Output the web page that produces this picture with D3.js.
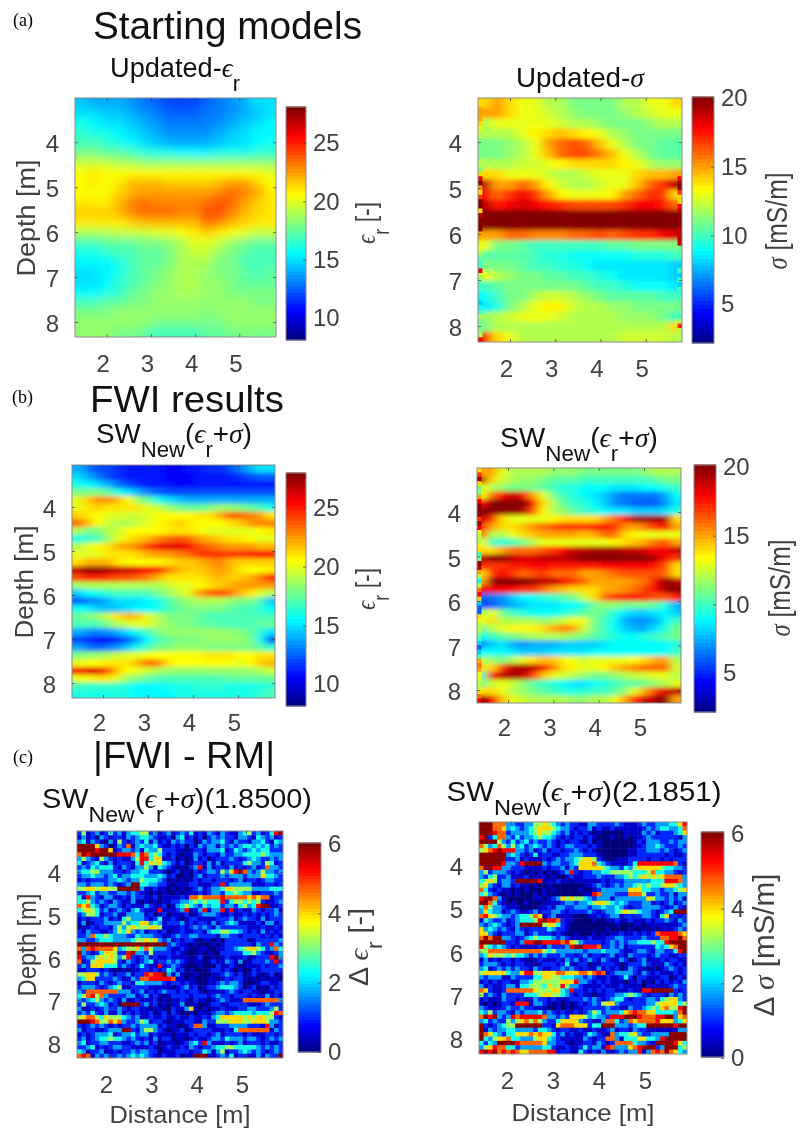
<!DOCTYPE html>
<html>
<head>
<meta charset="utf-8">
<script src="https://cdn.jsdelivr.net/npm/d3@7/dist/d3.min.js"></script>
<style>
html, body { margin: 0; padding: 0; background: #fff; }
svg { display: block; filter: blur(0.4px); }
text { font-family: "Liberation Sans", Arial, sans-serif; }
</style>
</head>
<body>
<svg id="chart" width="807" height="1128"></svg>
<script>
var xTicks = [2, 3, 4, 5]
var yTicks = [4, 5, 6, 7, 8]
var epsTicks = [10, 15, 20, 25]
var sigTicks = [5, 10, 15, 20]
var deltaTicks = [0, 2, 4, 6]

// (a) starting model, permittivity
var startEps = [
	[14.5,14,14,14,13.5,13,12.5,12,12,12,12.5,13,13.5,14,15,15],
	[15,15,14.5,14.5,14,13.5,13,12.5,12.5,12.5,13,13,13.5,14,14.5,15],
	[16,15.5,15,15,14.5,14,13.5,13,13,13,13,13.5,14,14.5,15,15.5],
	[16.5,16,16,15.5,15,14.5,14,13.5,13.5,13.5,13.5,14,14.5,15,15.5,15.5],
	[17,17,16.5,16,15.5,15,14.5,14,14,14,14,14.5,15,15,15.5,16],
	[18,18,17.5,17.5,17,16.5,16,16,15.5,15.5,15.5,16,16,16,16.5,16.5],
	[19.5,19.5,19.5,19,19,18.5,18.5,18.5,18.5,18.5,18.5,18.5,18.5,18.5,18.5,18.5],
	[20.5,21,20.5,20.5,20.5,20.5,20.5,20.5,20.5,20.5,20.5,20.5,20.5,20.5,20.5,20],
	[20.5,21,20.5,21,22,22,22,21.5,21.5,21.5,21.5,22,22.5,22.5,21.5,20.5],
	[20.5,20.5,20.5,21.5,22,22.5,22.5,22.5,22.5,22.5,22.5,23,23.5,23,22.5,21],
	[21,21,21,22,23,23.5,23,23,23,23,23.5,24,23.5,22.5,21.5,21],
	[21.5,21.5,21.5,22,23,23.5,23.5,23.5,23,23,24,24,23,22,21.5,21],
	[21,21,21,21,21.5,22,22,22,22,22,23.5,23,22,21.5,21,21],
	[19,19,19,19.5,19.5,19.5,20,20,20.5,21,21.5,21,20.5,20,19.5,19.5],
	[17,17,17.5,17.5,17.5,18,18,18.5,19,20,20,19.5,18.5,18,17.5,17.5],
	[16,16,16.5,17,17,17.5,17.5,18,19,19.5,19.5,18.5,18,17.5,17,17],
	[15.5,15.5,15.5,16,17,17.5,17.5,18,19,19,19,18,18,17,17,17],
	[15,15,15.5,16,17,17.5,18,18.5,19,19,18.5,18,18,17.5,17,17.5],
	[15,15,15.5,16.5,17,17.5,18,18.5,19,19,18.5,18.5,18,17.5,17.5,17.5],
	[15.5,15.5,16,16.5,17.5,18,18.5,18.5,19,19,18.5,18.5,18,18,18,18],
	[17,17,17.5,17.5,18,18,18.5,18.5,18.5,18.5,18.5,18.5,18.5,18.5,18,18],
	[18,18,18,18.5,18.5,18.5,18.5,18.5,18.5,18.5,18,18.5,18.5,18.5,18.5,18.5],
	[18.5,18.5,18.5,18.5,18.5,18.5,18,18,18,18,18,18,18.5,18.5,18.5,18.5],
	[18.5,18.5,18.5,18,18,17.5,17,17,17,17,17.5,17.5,18,18,18,18]
]

// (a) starting model, conductivity
var startSig = [
	[14,15,14,13,13,12,12,11,11,11,11,12,12,13,13,14],
	[15,15,14,13,13,12.5,12,11.5,11,11,11,11.5,12,12.5,13,13],
	[12,13,13,13,13,13,12.5,12,12,11.5,11,11,11,11.5,12,12],
	[12,12,12,13,13.5,14,14.5,14,13.5,13,12,11.5,11,11,11,11],
	[11,11,11.5,12,13,15,16,16.5,16,14.5,13,12,11,11,10.5,10.5],
	[11,11,11.5,12,13,14.5,16,16.5,16.5,15.5,14.5,13,12,11,10.5,10.5],
	[12,12,12,12.5,12.5,13,13.5,14,14,14,14,13.5,13,12,11.5,11.5],
	[14,14,13,13,13,12.5,12,12,12.5,13,13,13,14,14.5,14.5,15],
	[19,15,15,16,15,13.5,12.5,12,12,12.5,13,13,14.5,16,17,19],
	[18,16,17,18,17,15,13.5,13,13,13,13.5,15,16,17,17,14],
	[19,17.5,18,18.5,18,17.5,17,16.5,16.5,16.5,16.5,17,18,18,17.5,16],
	[20,20,20,20,20,20,20,20,20,20,20,20,20,20,20,20],
	[20,20,20,20,20,20,20,20,20,20,20,20,20,20,20,20],
	[15,15,16,16,15.5,15.5,15.5,16,16,16.5,16,16.5,17,17,18,18.5],
	[13,11,11,10.5,10,10,10,10,10,10,10.5,10.5,11,11,11,11],
	[10.5,10.5,10.5,10.5,10,9.5,9.5,9,9,9,9,9,9.5,9.5,9.5,10],
	[11,11,11,10.5,10,10,9.5,9.5,9,8.5,8.5,8.5,8.5,8.5,8.5,8],
	[13,12,11.5,11,11,10.5,10.5,10,10,9.5,9,8.5,8.5,8.5,8.5,8],
	[10,10.5,11,11,11,11,11,11,10.5,10,10,9.5,9,9,9,8.5],
	[9,10,11,11,12,12.5,12.5,12,11.5,11,10.5,10.5,10.5,10.5,10,10],
	[8.5,9.5,11,12,13,13.5,13.5,12.5,12,12,11.5,11.5,11,11,11,11],
	[11.5,12,12.5,13,13,13,12.5,12,12,12,12,11.5,11.5,11.5,11,10],
	[11,12,12,12,12,12,12,12,12,12,12,12,12,12,12,14],
	[17,14,13,12,12,12,12,12,12,12,12,12.5,12.5,12.5,12.5,12]
]

// fine cells along the frame where the model has speckle, top to bottom, null where nothing stands out
var startSigLeft = [14,14,15,15,15,14,13,12,12,11,11,11,11,12,12,11,14,18,20,15,14,17,20,20,14,19,20,20,20,15,null,null,13,12,11,10,10,18,12,11,10,10,9,9,8,9,10,12,11,11,11,12,18]
var startSigRight = [null,null,null,null,null,null,null,null,null,null,null,null,null,null,null,null,15,18,20,20,17,14,14,18,19,20,20,20,19,19,19,19,null,null,null,null,8,10,8,10,8,10,null,null,null,null,null,null,12,17,12,null,null]
var fwiSigLeft = [14,17,20,14,11,11,15,18,20,20,20,17,20,18,13,12,12,null,14,10,11,20,19,15,12,9,12,16,18,14,8,6,6,14,13,12,12,11,10,8,6,8,10,15,16,15,13,13,12,12,14,16,18]

// (b) FWI result, permittivity
var fwiEps = [
	[14,13,12,12,11.5,11,11,11,11,10.5,10.5,11,11,11.5,11.5,12,13,14,15,15],
	[15,14,13,12,11.5,11,11,11,11,10.5,10.5,10.5,11,11,11,11,11.5,12,12.5,12.5],
	[16,15.5,15,14,13,12,11.5,11,11,11,10.5,10.5,11,11,11,11,11,11,11,11],
	[18,18,18,17.5,16,15,14,13,12.5,12,12,12,12,12,12,12,12,12,12,12],
	[20,21.5,22.5,22.5,22,20.5,18.5,17.5,16,15,14.5,14,14,14,14,14,14,14,14,14],
	[20,21,21.5,21,21,21,21,20,19.5,18.5,18,17.5,17.5,18,18.5,18.5,18,17.5,17,16],
	[21.5,21,20.5,20,20,19.5,19.5,20,20.5,20.5,20.5,20.5,21,21,22,23.5,23.5,23,22.5,21],
	[23.5,22,20.5,19.5,19,19,19.5,20,20.5,21,21.5,21,20.5,20.5,20.5,21,21.5,22.5,23,23],
	[19,18,18,19,19.5,20.5,20.5,20.5,20.5,21,21,21,20.5,20,20,20,20,20,20.5,21],
	[16,16.5,17,18.5,20,21,21.5,22,23,23.5,24,23.5,22.5,22,21.5,21,21,20.5,20,20],
	[19,20,20.5,21,22,22.5,23,24.5,25.5,26,26,25.5,24,23.5,23,22.5,22.5,22.5,22,22],
	[20,20,20,21,21,21,21.5,22,22.5,22.5,23,23.5,24.5,24.5,24.5,24.5,24.5,25,25.5,25.5],
	[21,22,22,22,21,20.5,20.5,20.5,20.5,21,21.5,21.5,22,22.5,23,22,21.5,21.5,21.5,21.5],
	[26.5,27.5,27.5,27,26.5,26.5,26,25.5,25,23,22,21.5,21.5,22,22.5,22,21,20.5,20.5,21],
	[24,25,25,24.5,24,24,23.5,23,22,21,21,21,21,21.5,22,21.5,21.5,22,23,25],
	[18.5,19,19,19,19,19,19,19,19,19.5,20,20,20.5,21,21.5,22,22.5,22.5,22.5,22.5],
	[14.5,15.5,16,16.5,17,17,17,17,18,18.5,19.5,20,22.5,23.5,24,23.5,22,21,20,19],
	[12.5,13,13.5,14,15,15,15,15.5,16,17,18,18.5,19,19,19,18.5,18,18,17,14.5],
	[16,15.5,14.5,14.5,14.5,15,15.5,15.5,16,17,17.5,18,18,18,18,17.5,17,17,16.5,15.5],
	[17.5,18,18.5,19.5,21,22,21.5,20,19,18,18,18,17.5,17,17,17,17,17,17,17],
	[17,17,17,18,19,19.5,20,20,19,18.5,18,18,17.5,17.5,17,17,17,17,17.5,17.5],
	[14,13.5,13,13.5,14,15,16,17,18,18.5,18.5,18.5,18.5,18.5,18.5,18.5,18,17.5,16.5,15],
	[12,11.5,11,11,11.5,12.5,14,15.5,17,17.5,18,18,18,18.5,18.5,18.5,18.5,18,16,12.5],
	[14,13,12.5,13,13.5,14.5,16,17,18,18,18.5,18.5,18.5,18,18,18,18,18,17.5,16.5],
	[18,18.5,18.5,19,19.5,20,20,20.5,20.5,20.5,20.5,20.5,20.5,21,21,21,20.5,20.5,21,21],
	[20,20.5,20.5,21,21,21,22,23.5,23,21,20.5,20.5,20.5,20.5,20.5,20.5,20,20.5,21.5,22],
	[25,26,26,24,21.5,20.5,20,19.5,19,18.5,18.5,18.5,18.5,18.5,18.5,18.5,18.5,18.5,19,19.5],
	[20,20.5,21,21,20,18.5,18,17.5,17,17,17,17,17,17,17,17.5,17.5,17.5,17.5,17.5],
	[17,16.5,16.5,16.5,16.5,16,15.5,15.5,15.5,16,16,16,16.5,16.5,16.5,16,16,16,16,16.5],
	[16,16,16,16,16,16,15.5,15.5,15.5,15.5,16,16,16,16,16,16,16,16,16.5,17]
]

// (b) FWI result, conductivity
var fwiSig = [
	[15,15,13,12,12,12,12,11.5,11.5,11.5,11,11,11,11,11,11,11.5,12,12,12],
	[19,14,12.5,12,11.5,11.5,11,10.5,10.5,10.5,10,10,10,10,10,10,10,10.5,11,11],
	[13,12,11.5,11,11,11,10.5,10,9.5,9.5,9,9,9,8.5,8.5,8.5,9,9,9.5,10],
	[13,16,18,19,18,15,13,11,10,9.5,9,8.5,8,7,6.5,6.5,6.5,6.5,7.5,9],
	[18,20,20,20,20,18,14,12,10.5,10,9.5,9,8,7,6.5,6,6,6,7,8.5],
	[20,20,20,20,19.5,16.5,13.5,12,11.5,10.5,10,9.5,9,8.5,8.5,8,8,8,8.5,9.5],
	[19,17,14,13,13,13,13,13.5,14,14,14,14,15,16,18,19.5,19.5,19.5,19.5,14],
	[17,15,14,14,14.5,15.5,16,16.5,17,17,17,17.5,17.5,17,15.5,15,16,17,18,15],
	[16,12,12,13,14,14.5,15,15,15,15,14.5,15,16,16,14,13.5,13,13,13,13],
	[13,10,9.5,10,11,12,13,13,13,13,13,13,13,13.5,14,14.5,15,16,16.5,15],
	[14,14,15,16,16,16,16.5,17,18,19,19,19.5,19.5,19.5,19,19,18.5,18,18,19],
	[19,20,20,19,18.5,18.5,19,19,19,19.5,20,20,20,20,20,20,20,19,18,17],
	[17,17,17,17.5,17.5,18,18,17.5,17.5,17.5,17.5,17.5,18,18,18,18,18,17.5,16.5,14],
	[14,17,18,17,16,16.5,17,16,16,16,15,15,15.5,16,16.5,16.5,16.5,16.5,16,14],
	[15,20,20,20,20,19.5,19,19,18,17,16,15,15,15,15,15.5,16,18,20,19],
	[18,18,18,18,17,17,16,15,14.5,14,14,14,15,15,15.5,16,17,18,19.5,20],
	[6,6.5,7,8,9,9,9.5,10,10.5,11,12.5,14,16,17,17.5,17.5,17,16.5,16.5,17.5],
	[5.5,6,7,7.5,8,8.5,8.5,8.5,9,9,9.5,11,11.5,11.5,11,11,11,10.5,9.5,7.5],
	[12,13,11,10,9.5,9,9,9,9.5,10,10.5,11,10.5,9.5,8.5,8,8,8.5,9,8],
	[13,14,12,12,12,12,11.5,12,12.5,13.5,13,11,10,9,7.5,7,7,7.5,9,10],
	[11,12,13,13.5,13.5,13.5,14,15,15.5,15,12.5,11,10,9,8,7.5,7.5,8.5,9.5,11],
	[9,10,10.5,11,11.5,12,12,12,12,11.5,11,10.5,10,9.5,9,9,9.5,10,10.5,11],
	[7,8,8.5,7.5,7,7.5,7.5,7.5,8,8,8,8,8.5,9,9,9,9,9,9,9.5],
	[9,9,9,8.5,8,8,8,8.5,8.5,8.5,8.5,9,9,9,9,9,9,9,9,10],
	[12,11.5,11,12,13,14,14.5,14.5,13.5,13,12.5,13,13,13,13,13.5,14,15,15,12],
	[14,14,17,19,19.5,19,17.5,15.5,14,13.5,13,13,13.5,14.5,15,15.5,16,16,16,12.5],
	[10,18,19,19.5,19,17,14.5,13,12.5,12,11.5,11,11,11.5,12,12.5,12.5,13,13,12],
	[11,12.5,13,12.5,11.5,10.5,10,9.5,9,8.5,8.5,9,9.5,10,10.5,10.5,11,11.5,12,13],
	[14,14,13,12,11.5,11,10.5,10,9.5,9.5,9.5,10,10,10.5,11.5,13,15,17,18.5,19],
	[20,18,14.5,13,12.5,12,12,12,12,11.5,11.5,12,12,13,15,17,18.5,19.5,20,15]
]

// (c) misfit panels, one digit per cell, digitValue says what each digit stands for (spaces only help counting)
var digitValue = [0, 0.45, 1, 1.7, 2.4, 3.2, 4, 4.7, 5.3, 6]
var diffEpsRows = [
	"2512312423 1344552312 3123241213 2132113452 312489",
	"1312032122 1323443211 2034121202 3232213321 432312",
	"3413210315 2123241312 1323220132 3342132213 342143",
	"9999632013 2713433421 1212021323 3132323443 434232",
	"9999899612 3323143352 2211012213 3341243234 344222",
	"7989999998 8874874542 1210113212 2132233444 454333",
	"3532153212 1135884661 1201013120 1222321234 322323",
	"4123421312 2214846564 3212012213 1312222453 325412",
	"2324344421 3213353143 2101023813 1221312123 127332",
	"3445533322 1233442221 0120102123 3253689732 353323",
	"2334332342 3344433343 1200102312 2232333233 364432",
	"1212222334 3233544432 0101012122 1222123122 123322",
	"3323332321 2399443322 1011122111 2282333331 112212",
	"5566566559 9999311211 0101012312 3346655553 333444",
	"2234233223 3232110101 0010111212 3324454331 122232",
	"4183213311 2132211201 1112177677 7787777767 677122",
	"4453232132 1131010101 1223345454 4482455454 521123",
	"7674312332 1211132112 0134543243 4423324534 899112",
	"4565423123 2134211181 1123811381 3381812113 212231",
	"2355412231 1333312012 0111201233 3211211212 121232",
	"1212223121 4533321241 1210122111 1222312322 131222",
	"1301223333 5344663431 2223121221 3123431111 213312",
	"0112122135 3565556651 1112123232 1322222211 121121",
	"2132211235 4632312212 0112112213 4455443212 131212",
	"2237445433 3224333221 1232233222 2133221222 212121",
	"3322344433 3345565632 3121221011 0102222201 222223",
	"9999999999 9999999999 2321101000 1012222221 322832",
	"7378777763 4556475333 2112100110 0112234566 542374",
	"9321246652 2893325222 2121000101 0022222445 321123",
	"8233565653 5821231211 2111101200 1012111201 222893",
	"7125666652 1321234122 3232101101 2113213012 223282",
	"2326664442 3212421181 2321000100 0211210111 121223",
	"1122212100 1011221212 4312010001 2212101002 122222",
	"5566523212 2312287889 3131001000 1123212012 101201",
	"3466222232 1132778888 8711010001 1012122101 010110",
	"1222132123 2214433332 1221211001 1232332000 122112",
	"2333212345 1122221111 1012312012 2344432012 010212",
	"3277777773 3312312123 2212122101 1112321221 101122",
	"4578573222 2331231210 1222212221 2322122212 113121",
	"3234532321 3112111201 0112102110 1232111777 777773",
	"2522343120 9999231201 0113011001 2211222211 123222",
	"3112123223 2122110110 0211361010 1121112233 222352",
	"2324213113 1212112012 0210010111 2332344443 444587",
	"5677546555 4323112112 1121121121 3466666565 665521",
	"9998755767 3223541221 0111221132 2555666556 665332",
	"2123232121 2232333312 1100127731 1222333322 218312",
	"3122112333 9921355321 0112012222 1112147777 777132",
	"1212333412 3342331211 1011121221 2312222121 112212",
	"2312344544 3232121312 2011012112 3324333233 212323",
	"3412233222 1123231201 1101234283 1112123122 212112",
	"2234121233 2211112101 2112132122 3445544444 323232",
	"4312231121 2232332201 1122212243 1351223432 321232",
	"7871323223 2343432112 1120119991 1232412211 313229"
]

var diffSigRows = [
	"9997773322 3355654323 2211332222 3211123223 334468",
	"9997763432 3456665433 2122312112 1111112323 443347",
	"9998772333 3456554323 1212101000 0011113231 222346",
	"8924773242 3345443212 1221210001 0010112322 222213",
	"9999532423 4232232121 2210201000 0000121333 223233",
	"7534753534 2343232123 3222121000 0000112334 322232",
	"5678988833 2312312212 2321210000 0001122333 232123",
	"9999993432 1241221122 3332221000 0001122222 212112",
	"9999992231 2111212323 3456652100 1112222122 121222",
	"9999983328 9999323322 3466674321 1112488888 888721",
	"7998833222 1111212231 3266666543 3243566666 544332",
	"3523332121 0101010123 8212233445 5555444574 433212",
	"3245223111 2011101001 2112223222 3345456565 677773",
	"4565233299 9998111211 0111111212 2233333344 488873",
	"5632133121 1010010000 0001123212 3233454544 566543",
	"7421211010 1000101000 0010012333 3336664433 233456",
	"4532101010 0010100000 0001187333 2227775223 223133",
	"8997310000 0011012365 6554323331 3333333653 323231",
	"9974210100 1000111123 3233456654 3432223312 123123",
	"4753321110 0001121332 2333233433 4321223333 212321",
	"3643312321 1231223321 2222321233 4565543321 234999",
	"7865433234 4576123111 1000112123 3122223321 462212",
	"1432231234 4458988721 1000010011 2112111212 232132",
	"3234321239 9999566421 0000000000 1000110111 111123",
	"6343232132 1222243221 0000000010 0001001010 111232",
	"6632122233 1232221210 0100010101 1211212127 888876",
	"7979933212 3454443232 1111211122 3322223222 778897",
	"9999992213 8899888878 6532222123 2323344454 489999",
	"8543432121 1112132223 8998887223 2312222224 346799",
	"5577777777 7777545333 3332333433 3211233213 322489",
	"3465554544 3232322232 2123122123 1213222123 221122",
	"1312122121 1012111213 2312321321 1320123111 212211",
	"2333212122 1101222124 1122011222 1012223211 132121",
	"3412323232 2132112232 3212113121 2013211010 123212",
	"5666664336 8855666776 6677678712 3333213212 111212",
	"3233311322 2244665544 4332321121 1242022111 220121",
	"1212122113 3455555566 6833212121 1101120102 121213",
	"3121123314 4555465585 3321111211 1211110111 112322",
	"7621127777 7765556643 8221212122 1112118899 999212",
	"5232132222 4445665543 2121101122 3345432122 213232",
	"1211132212 1132212111 2223232123 4421222332 456632",
	"1010122188 8133210101 0121232566 3222222335 666645",
	"3211123223 2211100101 0112222232 2113223454 675589",
	"4352332132 3334232121 1212354233 3467877664 444379",
	"7989323878 8888733232 6665343328 8899987778 899367",
	"3423225356 7575322466 6632211377 4237677778 666346",
	"9212345599 9999221677 7666244999 3332344999 999899",
	"9132334433 3324432122 1121121123 1221322111 111133",
	"9764324466 6767664231 2112432117 3445632233 339999",
	"9435667443 3356643211 1113212277 3144466443 899999",
	"4243999987 7777633221 0112213212 7777433219 999864",
	"3568774423 3333442112 1124233187 3336789992 399945",
	"8989787876 6777788122 1142121311 2323381378 797643"
]

var diffEps = parseDigits(diffEpsRows)
var diffSig = parseDigits(diffSigRows)

function parseDigits(rows) {
	return rows.map(r => r.replace(/ /g, '').split('').map(d => digitValue[+d]))
}

// rich text pieces: n normal, e greek italic, s subscript
var eps = ['\u03f5', 'e']
var sig = ['\u03c3', 'e']
var rSub = ['r', 's']
var swTitle = [['SW', 'n'], ['New', 's'], ['(', 'n'], eps, rSub, ['+', 'n'], sig, [')', 'n']]

var panels = [
	{grid: startEps, blur: '5 4', box: [75, 276, 98, 337], x2: 106.7, x5: 239.3, y4: 142.3, y8: 322, xPad: 18,
		bar: [286, 306, 107, 340], cbTicks: epsTicks, cbPos: [318, 143], yLabelX: 35, yLabelC: 218, yLabelW: 117,
		title: [['Updated-', 'n'], eps, rSub], tC: 175, tY: 77, tW: 130, tSize: 27,
		cbLabel: [eps, rSub, [' [-]', 'n']], cbX: 375, cbC: 223, cbW: 42, cbSize: 28},
	{grid: startSig, blur: '5 2', box: [478, 682, 98, 342], x2: 510, x5: 645.7, y4: 142, y8: 326, xPad: 18,
		edgeLeft: startSigLeft, edgeRight: startSigRight,
		bar: [692, 714, 97, 343], cbTicks: sigTicks, cbPos: [304, 98],
		title: [['Updated-', 'n'], sig], tC: 580, tY: 87, tW: 128, tSize: 27,
		cbLabel: [sig, [' [mS/m]', 'n']], cbX: 787, cbC: 221, cbW: 97, cbSize: 30},
	{grid: fwiEps, blur: '4.5 2.2', box: [72, 275, 465, 698], x2: 103, x5: 238, y4: 507, y8: 683, xPad: 16,
		bar: [286, 306, 473, 706], cbTicks: epsTicks, cbPos: [684, 508], yLabelX: 33, yLabelC: 582, yLabelW: 113,
		title: swTitle, tC: 174, tY: 443, tW: 156, tSize: 27,
		cbLabel: [eps, rSub, [' [-]', 'n']], cbX: 375, cbC: 589, cbW: 42, cbSize: 28},
	{grid: fwiSig, blur: '4.5 2.2', box: [477, 681, 468, 703], x2: 508, x5: 644, y4: 512, y8: 690, xPad: 16,
		edgeLeft: fwiSigLeft,
		bar: [694, 716, 465, 712], cbTicks: sigTicks, cbPos: [673, 467],
		title: swTitle, tC: 579, tY: 447, tW: 158, tSize: 27,
		cbLabel: [sig, [' [mS/m]', 'n']], cbX: 790, cbC: 588, cbW: 97, cbSize: 30},
	{grid: diffEps, blur: '0.6', box: [77, 283, 831, 1058], x2: 110, x5: 246, y4: 872, y8: 1043, xPad: 18,
		bar: [298, 321, 843, 1052], cbTicks: deltaTicks, cbPos: [1052, 844], yLabelX: 36, yLabelC: 945, yLabelW: 103,
		title: swTitle.concat([['(1.8500)', 'n']]), tC: 177, tY: 808, tW: 270, tSize: 27,
		cbLabel: [['\u0394 ', 'n'], eps, rSub, [' [-]', 'n']], cbX: 368, cbC: 947, cbW: 78, cbSize: 27,
		xLabelC: 180, xLabelY: 1123, xLabelW: 141},
	{grid: diffSig, blur: '0.6', box: [479, 687, 822, 1054], x2: 511, x5: 649, y4: 865, y8: 1038, xPad: 18,
		bar: [701, 724, 832, 1057], cbTicks: deltaTicks, cbPos: [1058, 834],
		title: swTitle.concat([['(2.1851)', 'n']]), tC: 584, tY: 801, tW: 275, tSize: 27,
		cbLabel: [['\u0394 ', 'n'], sig, [' [mS/m]', 'n']], cbX: 774, cbC: 945, cbW: 143, cbSize: 29,
		xLabelC: 583, xLabelY: 1121, xLabelW: 143}
]

var headings = [
	{text: 'Starting models', c: 227.5, y: 39, w: 269, size: 38},
	{text: 'FWI results', c: 187, y: 412, w: 194, size: 36},
	{text: '|FWI - RM|', c: 184, y: 768, w: 182, size: 37}
]
var panelTags = [
	{text: '(a)', x: 13, y: 26},
	{text: '(b)', x: 12, y: 403},
	{text: '(c)', x: 13, y: 763}
]

var svg = d3.select('#chart')
var defs = svg.append('defs')
var tickColor = '#404040'
var frameColor = '#8a8a8a'
var intFormat = d3.format('d')

// MATLAB jet
function jet(t) {
	var c = v => Math.round(255 * Math.max(0, Math.min(1, v)))
	return d3.rgb(c(1.5 - Math.abs(4 * t - 3)), c(1.5 - Math.abs(4 * t - 2)), c(1.5 - Math.abs(4 * t - 1))).formatHex()
}

// writes the pieces, then stretches the text to the width seen in the picture
function richText(parent, pieces, size, cx, cy, rot, width, fill) {
	var t = parent.append('text')
		.attr('text-anchor', 'middle')
		.attr('font-size', size)
		.attr('fill', fill)
	var shift = size * 0.5
	var down = false
	pieces.forEach(p => {
		var s = t.append('tspan').text(p[0])
		var dy = 0
		if (p[1] == 's') { dy = down ? 0 : shift; down = true }
		else if (down) { dy = -shift; down = false }
		if (dy) s.attr('dy', dy)
		if (p[1] == 's') s.attr('font-size', size * 0.8)
		if (p[1] == 'e') s.attr('font-style', 'italic').style('font-family', '"Liberation Serif", "DejaVu Serif", serif')
	})
	var sx = width / t.node().getComputedTextLength()
	t.attr('transform', 'translate(' + cx + ',' + cy + ') rotate(' + rot + ') scale(' + sx + ',1)')
	return t
}

function drawPanel(p, i) {
	var left = p.box[0], right = p.box[1], top = p.box[2], bottom = p.box[3]
	var g = svg.append('g')

	var x = d3.scaleLinear().domain([2, 5]).range([p.x2, p.x5])
	var y = d3.scaleLinear().domain([4, 8]).range([p.y4, p.y8])
	var cb = d3.scaleLinear().domain(d3.extent(p.cbTicks)).range(p.cbPos)
	var color = d3.scaleLinear().domain([cb.invert(p.bar[3]), cb.invert(p.bar[2])]).range([0, 1])

	var col = d3.scaleBand().domain(d3.range(p.grid[0].length)).range([left, right])
	var row = d3.scaleBand().domain(d3.range(p.grid.length)).range([top, bottom])

	defs.append('clipPath').attr('id', 'clip' + i)
		.append('rect')
		.attr('x', left).attr('y', top)
		.attr('width', right - left).attr('height', bottom - top)
	var blur = defs.append('filter').attr('id', 'blur' + i)
		.attr('filterUnits', 'userSpaceOnUse')
		.attr('x', left - 40).attr('y', top - 40)
		.attr('width', right - left + 80).attr('height', bottom - top + 80)
	blur.append('feGaussianBlur').attr('stdDeviation', p.blur)

	// outer cells run on past the frame so the blur does not fade at the edges
	var bleed = 30
	var nc = p.grid[0].length, nr = p.grid.length
	var clipped = g.append('g').attr('clip-path', 'url(#clip' + i + ')')
	var cells = clipped.append('g').attr('filter', 'url(#blur' + i + ')')
	p.grid.forEach((vals, r) => {
		cells.selectAll('rect.r' + r)
			.data(vals)
			.enter().append('rect')
			.attr('class', 'r' + r)
			.attr('x', (d, c) => col(c) - (c == 0 ? bleed : 0))
			.attr('y', row(r) - (r == 0 ? bleed : 0))
			.attr('width', (d, c) => col.bandwidth() + 0.5 + (c == 0 || c == nc - 1 ? bleed : 0))
			.attr('height', row.bandwidth() + 0.5 + (r == 0 || r == nr - 1 ? bleed : 0))
			.attr('fill', d => jet(color(d)))
	})

	// speckle along the frame, one narrow column of fine cells per side
	var drawEdge = (vals, side) => {
		if (!vals) return
		var fine = d3.scaleBand().domain(d3.range(vals.length)).range([top, bottom])
		var w = (right - left) / 46
		clipped.append('g')
			.selectAll('rect')
			.data(vals.map((v, r) => ({v: v, r: r})).filter(d => d.v != null))
			.enter().append('rect')
			.attr('x', side == 'left' ? left : right - w)
			.attr('y', d => fine(d.r))
			.attr('width', w)
			.attr('height', fine.bandwidth() + 0.3)
			.attr('fill', d => jet(color(d.v)))
	}
	drawEdge(p.edgeLeft, 'left')
	drawEdge(p.edgeRight, 'right')

	g.append('rect')
		.attr('x', left).attr('y', top)
		.attr('width', right - left).attr('height', bottom - top)
		.attr('fill', 'none').attr('stroke', frameColor)

	// axes, ticks point inward on all four sides
	var ax = g.append('g').attr('transform', 'translate(0,' + bottom + ')')
		.call(d3.axisBottom(x).tickValues(xTicks).tickFormat(intFormat).tickSizeInner(-3).tickSizeOuter(0).tickPadding(p.xPad))
	var ay = g.append('g').attr('transform', 'translate(' + left + ',0)')
		.call(d3.axisLeft(y).tickValues(yTicks).tickFormat(intFormat).tickSizeInner(-3).tickSizeOuter(0).tickPadding(16))
	var at = g.append('g').attr('transform', 'translate(0,' + top + ')')
		.call(d3.axisTop(x).tickValues(xTicks).tickSizeInner(-3).tickSizeOuter(0).tickFormat(''))
	var ar = g.append('g').attr('transform', 'translate(' + right + ',0)')
		.call(d3.axisRight(y).tickValues(yTicks).tickSizeInner(-3).tickSizeOuter(0).tickFormat(''))
	ax.selectAll('text').attr('dx', -4)
	ay.selectAll('text').attr('y', 2)

	// colorbar
	var bar = g.append('g')
	var steps = d3.range(64)
	var stepH = d3.scaleBand().domain(steps).range([p.bar[3], p.bar[2]])
	bar.selectAll('rect')
		.data(steps)
		.enter().append('rect')
		.attr('x', p.bar[0])
		.attr('y', d => stepH(d) - 0.5)
		.attr('width', p.bar[1] - p.bar[0])
		.attr('height', stepH.bandwidth() + 1)
		.attr('fill', d => jet((d + 0.5) / 64))
	bar.append('rect')
		.attr('x', p.bar[0]).attr('y', p.bar[2])
		.attr('width', p.bar[1] - p.bar[0]).attr('height', p.bar[3] - p.bar[2])
		.attr('fill', 'none').attr('stroke', frameColor)
	var ac = g.append('g').attr('transform', 'translate(' + p.bar[1] + ',0)')
		.call(d3.axisRight(cb).tickValues(p.cbTicks).tickFormat(intFormat).tickSizeInner(-3).tickSizeOuter(0).tickPadding(7))

	;[ax, ay, at, ar, ac].forEach(a => {
		a.select('.domain').remove()
		a.selectAll('line').attr('stroke', tickColor).attr('stroke-width', 0.7)
		a.selectAll('text')
			.attr('fill', tickColor)
			.style('font-family', '"Liberation Sans", Arial, sans-serif')
			.style('font-size', '24px')
	})

	richText(g, p.title, p.tSize, p.tC, p.tY, 0, p.tW, '#111')
	richText(g, p.cbLabel, p.cbSize, p.cbX, p.cbC, -90, p.cbW, tickColor)
	if (p.yLabelX) richText(g, [['Depth [m]', 'n']], 26, p.yLabelX, p.yLabelC, -90, p.yLabelW, tickColor)
	if (p.xLabelC) richText(g, [['Distance [m]', 'n']], 24, p.xLabelC, p.xLabelY, 0, p.xLabelW, tickColor)
}

panels.forEach(drawPanel)

headings.forEach(h => richText(svg, [[h.text, 'n']], h.size, h.c, h.y, 0, h.w, '#111'))

svg.selectAll('text.tag')
	.data(panelTags)
	.enter().append('text')
	.attr('class', 'tag')
	.attr('x', d => d.x)
	.attr('y', d => d.y)
	.attr('font-size', 18)
	.style('font-family', '"Liberation Serif", serif')
	.text(d => d.text)
</script>
</body>
</html>
